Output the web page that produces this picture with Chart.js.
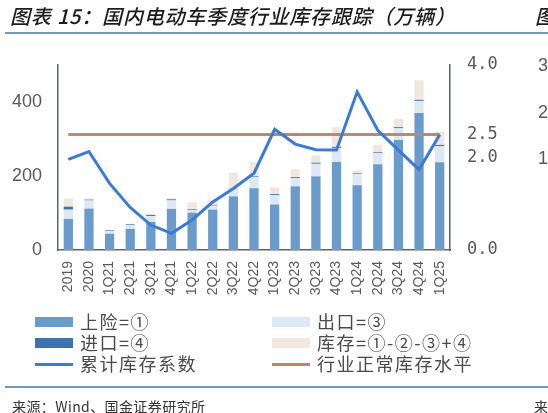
<!DOCTYPE html>
<html><head><meta charset="utf-8">
<script src="https://cdn.jsdelivr.net/npm/chart.js@4.4.1/dist/chart.umd.min.js"></script>
<style>
html,body{margin:0;padding:0;width:548px;height:413px;overflow:hidden;background:#fff;}
#wrap{position:relative;width:548px;height:413px;overflow:hidden;}
canvas{position:absolute;left:0;top:0;}
.t{position:absolute;white-space:nowrap;font-family:"Noto Sans CJK SC";line-height:1;}
.sw{position:absolute;}
</style></head><body>
<div id="wrap">
<canvas id="c" width="548" height="413"></canvas>
<div class="t" style="left:10px;top:6px;font-size:20px;font-style:italic;font-weight:500;letter-spacing:0.8px;color:#1c1c1c;">图表 15：国内电动车季度行业库存跟踪（万辆）</div>
<div class="t" style="left:535px;top:6px;font-size:20px;font-style:italic;font-weight:500;color:#1c1c1c;">图</div>
<div style="position:absolute;left:5px;top:32px;width:543px;height:2px;background:#7197bd;"></div>
<div class="t" style="left:538px;top:56px;font-size:18px;font-family:'Liberation Sans';color:#595959;">3</div>
<div class="t" style="left:538px;top:103px;font-size:18px;font-family:'Liberation Sans';color:#595959;">2</div>
<div class="t" style="left:538px;top:149px;font-size:18px;font-family:'Liberation Sans';color:#595959;">1</div>
<div id="legend"></div>
<div style="position:absolute;left:5px;top:386px;width:543px;height:1.5px;background:#7197bd;"></div>
<div class="t" style="left:12px;top:399px;font-size:14px;letter-spacing:0.4px;color:#333;">来源：Wind、国金证券研究所</div>
<div class="t" style="left:534px;top:399px;font-size:14px;color:#333;">来</div>
</div>
<script>
const categories = ['2019','2020','1Q21','2Q21','3Q21','4Q21','1Q22','2Q22','3Q22','4Q22','1Q23','2Q23','3Q23','4Q23','1Q24','2Q24','3Q24','4Q24','1Q25'];
const shangxian = [84,112,44,57,76,111,101,109,145,167,123,172,199,238,175,232,297,370,237];
const chukou    = [25,22,7,11,16,23,7,11,21,30,25,22,34,38,31,30,32,33,44];
const jinkou    = [8,2,2,2,3,3,2,2,1,2,3,3,3,3,2,2,3,3,3];
const kucun     = [22,4,0,0,1,3,19,15,42,39,18,21,20,53,7,21,22,53,36];
const coef      = [1.96,2.13,1.44,0.92,0.54,0.36,0.65,1.04,1.33,1.66,2.61,2.29,2.17,2.16,3.42,2.59,2.16,1.74,2.49];
const normalLevel = [2.5,2.5,2.5,2.5,2.5,2.5,2.5,2.5,2.5,2.5,2.5,2.5,2.5,2.5,2.5,2.5,2.5,2.5,2.5];
const leftTicks  = [0,200,400];
const rightTicks = [0,2,2.5,4];

const axisColor = '#566478';
const tickColor = '#595959';

const chart = new Chart(document.getElementById('c'), {
  data: {
    labels: categories,
    datasets: [
      {type:'bar', label:'上险=①', data:shangxian, backgroundColor:'#6b9bcb', yAxisID:'y', stack:'s', order:2},
      {type:'bar', label:'出口=③', data:chukou, backgroundColor:'#dde8f4', yAxisID:'y', stack:'s', order:2},
      {type:'bar', label:'进口=④', data:jinkou, backgroundColor:'#3e72ab', yAxisID:'y', stack:'s', order:2},
      {type:'bar', label:'库存=①-②-③+④', data:kucun, backgroundColor:'#f1e7e0', yAxisID:'y', stack:'s', order:2},
      {type:'line', label:'累计库存系数', data:coef, borderColor:'#3b7bd3', borderWidth:3, pointRadius:0, tension:0, fill:false, yAxisID:'y1', order:0},
      {type:'line', label:'行业正常库存水平', data:normalLevel, borderColor:'#c0876b', borderWidth:3, pointRadius:0, tension:0, fill:false, yAxisID:'y1', order:1}
    ]
  },
  options: {
    responsive:false, animation:false,
    layout:{padding:{top:65, bottom:103, left:0, right:0}},
    plugins:{legend:{display:false}, tooltip:{enabled:false}},
    datasets:{bar:{barPercentage:0.45, categoryPercentage:1}},
    scales:{
      x:{
        stacked:true,
        grid:{display:false, drawTicks:false},
        border:{display:true, color:axisColor, width:1.5},
        ticks:{color:tickColor, font:{family:'Liberation Sans', size:14}, minRotation:90, maxRotation:90, padding:11, autoSkip:false},
        afterFit:(s)=>{s.height=60;}
      },
      y:{
        position:'left', stacked:true, min:0, max:500,
        grid:{display:false, drawTicks:false},
        border:{display:true, color:axisColor, width:1.5},
        ticks:{color:tickColor, font:{family:'Liberation Sans', size:18}, padding:16},
        afterBuildTicks:(s)=>{s.ticks = leftTicks.map(v=>({value:v}));},
        afterFit:(s)=>{s.width=58;}
      },
      y1:{
        position:'right', min:0, max:4,
        grid:{display:false, drawTicks:false},
        border:{display:true, color:axisColor, width:1.5},
        ticks:{color:tickColor, font:{family:'DejaVu Sans Mono', size:17}, padding:17, callback:(v)=>Number(v).toFixed(1)},
        afterBuildTicks:(s)=>{s.ticks = rightTicks.map(v=>({value:v}));},
        afterFit:(s)=>{s.width=98;}
      }
    }
  }
});

// HTML legend built from the chart's datasets
const legendLayout = [
  {ds:0, x:35, y:322}, {ds:1, x:272, y:322},
  {ds:2, x:35, y:343}, {ds:3, x:272, y:343},
  {ds:4, x:35, y:364}, {ds:5, x:272, y:364}
];
const lg = document.getElementById('legend');
legendLayout.forEach(it=>{
  const d = chart.data.datasets[it.ds];
  const sw = document.createElement('div');
  sw.className='sw';
  if (d.type==='bar') {
    sw.style.cssText = `left:${it.x}px;top:${it.y-5}px;width:38px;height:10px;background:${d.backgroundColor};`;
  } else {
    sw.style.cssText = `left:${it.x}px;top:${it.y-1.5}px;width:38px;height:3px;background:${d.borderColor};`;
  }
  lg.appendChild(sw);
  const tx = document.createElement('div');
  tx.className='t';
  tx.style.cssText = `left:${it.x+45}px;top:${it.y-10}px;font-size:18px;letter-spacing:1.5px;color:#4a4a4a;`;
  tx.textContent = d.label;
  lg.appendChild(tx);
});
</script>
</body></html>
